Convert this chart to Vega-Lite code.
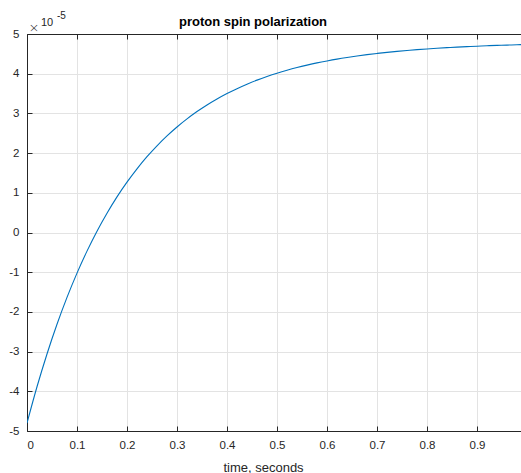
{
  "$schema": "https://vega.github.io/schema/vega-lite/v6.json",
  "width": 494,
  "height": 397,
  "autosize": "none",
  "padding": {"left": 27, "top": 34, "right": 0, "bottom": 42},
  "background": "white",
  "title": {"text": "proton spin polarization", "font": "Liberation Sans", "fontSize": 13, "fontWeight": "bold", "color": "#000000", "anchor": "middle", "dx": -21, "offset": -18},
  "config": {
    "view": {"stroke": null},
    "axis": {
      "labelFont": "Liberation Sans", "labelFontSize": 11.5, "labelColor": "#262626",
      "titleFont": "Liberation Sans", "titleFontSize": 13, "titleFontWeight": "normal", "titleColor": "#262626",
      "domainColor": "#262626", "domainWidth": 1, "tickColor": "#262626", "tickWidth": 1,
      "gridColor": "#e3e3e3", "gridWidth": 1, "labelOverlap": false
    }
  },
  "data": {"values": [
    {"t": 0.00, "p": -4.800e-5}, {"t": 0.02, "p": -3.886e-5}, {"t": 0.04, "p": -3.060e-5},
    {"t": 0.06, "p": -2.312e-5}, {"t": 0.08, "p": -1.635e-5}, {"t": 0.10, "p": -1.023e-5},
    {"t": 0.12, "p": -0.469e-5}, {"t": 0.14, "p": 0.033e-5}, {"t": 0.16, "p": 0.486e-5},
    {"t": 0.18, "p": 0.897e-5}, {"t": 0.20, "p": 1.268e-5}, {"t": 0.22, "p": 1.604e-5},
    {"t": 0.24, "p": 1.909e-5}, {"t": 0.26, "p": 2.184e-5}, {"t": 0.28, "p": 2.433e-5},
    {"t": 0.30, "p": 2.658e-5}, {"t": 0.32, "p": 2.862e-5}, {"t": 0.34, "p": 3.046e-5},
    {"t": 0.36, "p": 3.213e-5}, {"t": 0.38, "p": 3.364e-5}, {"t": 0.40, "p": 3.501e-5},
    {"t": 0.42, "p": 3.624e-5}, {"t": 0.44, "p": 3.736e-5}, {"t": 0.46, "p": 3.838e-5},
    {"t": 0.48, "p": 3.929e-5}, {"t": 0.50, "p": 4.012e-5}, {"t": 0.52, "p": 4.087e-5},
    {"t": 0.54, "p": 4.155e-5}, {"t": 0.56, "p": 4.216e-5}, {"t": 0.58, "p": 4.272e-5},
    {"t": 0.60, "p": 4.322e-5}, {"t": 0.62, "p": 4.368e-5}, {"t": 0.64, "p": 4.409e-5},
    {"t": 0.66, "p": 4.446e-5}, {"t": 0.68, "p": 4.480e-5}, {"t": 0.70, "p": 4.510e-5},
    {"t": 0.72, "p": 4.538e-5}, {"t": 0.74, "p": 4.563e-5}, {"t": 0.76, "p": 4.585e-5},
    {"t": 0.78, "p": 4.606e-5}, {"t": 0.80, "p": 4.624e-5}, {"t": 0.82, "p": 4.641e-5},
    {"t": 0.84, "p": 4.656e-5}, {"t": 0.86, "p": 4.670e-5}, {"t": 0.88, "p": 4.682e-5},
    {"t": 0.90, "p": 4.693e-5}, {"t": 0.92, "p": 4.704e-5}, {"t": 0.94, "p": 4.713e-5},
    {"t": 0.96, "p": 4.721e-5}, {"t": 0.98, "p": 4.729e-5}, {"t": 1.00, "p": 4.735e-5}
  ]},
  "layer": [
    {
      "mark": {"type": "line", "color": "#0072BD", "strokeWidth": 1.1, "clip": true, "interpolate": "monotone"},
      "encoding": {
        "x": {"field": "t", "type": "quantitative",
          "scale": {"domain": [0, 0.988], "nice": false, "zero": false},
          "axis": {"orient": "bottom", "title": "time, seconds", "values": [0, 0.1, 0.2, 0.3, 0.4, 0.5, 0.6, 0.7, 0.8, 0.9],
            "format": "~g", "grid": true, "tickSize": -5, "labelPadding": 13, "labelOverlap": false, "titleX": 236, "titleY": 40, "titleBaseline": "alphabetic", "titleAnchor": "start", "titleAlign": "center"}},
        "y": {"field": "p", "type": "quantitative",
          "scale": {"domain": [-5e-5, 5e-5], "nice": false, "zero": false},
          "axis": {"title": null, "values": [-5e-5, -4e-5, -3e-5, -2e-5, -1e-5, 0, 1e-5, 2e-5, 3e-5, 4e-5, 5e-5],
            "labelExpr": "replace(format(datum.value*1e5, '.0f'), '−', '-')", "labelOverlap": false, "labelBound": false, "grid": true, "tickSize": -5, "labelPadding": 13}}
      }
    },
    {
      "data": {"values": [{"label": "×"}]},
      "mark": {"type": "text", "align": "left", "baseline": "middle", "dx": 1.5, "dy": -6.5, "font": "DejaVu Sans", "fontWeight": 200, "fontSize": 13, "color": "#262626"},
      "encoding": {
        "text": {"field": "label"},
        "x": {"datum": 0, "type": "quantitative",
          "axis": {"orient": "top", "title": null, "labels": false, "grid": false, "tickSize": -5, "values": [0, 0.1, 0.2, 0.3, 0.4, 0.5, 0.6, 0.7, 0.8, 0.9]}},
        "y": {"datum": 5e-5, "type": "quantitative", "axis": null}
      }
    },
    {
      "data": {"values": [{"label": "10"}]},
      "mark": {"type": "text", "align": "left", "baseline": "middle", "dx": 14, "dy": -11.5, "font": "Liberation Sans", "fontSize": 11, "color": "#262626"},
      "encoding": {
        "text": {"field": "label"},
        "x": {"datum": 0, "type": "quantitative", "axis": null},
        "y": {"datum": 5e-5, "type": "quantitative", "axis": null}
      }
    },
    {
      "data": {"values": [{"label": "-5"}]},
      "mark": {"type": "text", "align": "left", "baseline": "middle", "dx": 30, "dy": -18, "font": "Liberation Sans", "fontSize": 10, "color": "#262626"},
      "encoding": {
        "text": {"field": "label"},
        "x": {"datum": 0, "type": "quantitative", "axis": null},
        "y": {"datum": 5e-5, "type": "quantitative", "axis": null}
      }
    }
  ],
  "resolve": {"axis": {"x": "independent", "y": "independent"}}
}
